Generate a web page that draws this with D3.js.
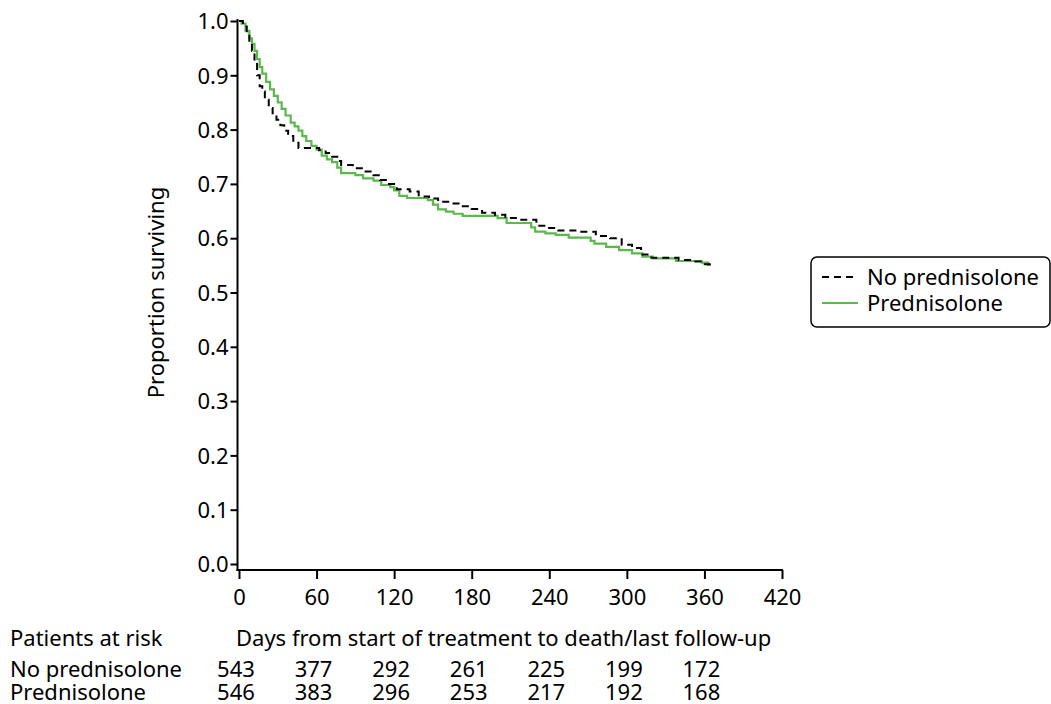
<!DOCTYPE html>
<html>
<head>
<meta charset="utf-8">
<script src="https://cdn.jsdelivr.net/npm/d3@7"></script>
<style>
  body { margin: 0; background: #fff; }
  text { font-family: "Noto Sans", sans-serif; fill: #000; }
</style>
</head>
<body>
<script>
// Kaplan-Meier estimates: [day, proportion surviving]
var noPred = [[0,1.0],[3,0.99],[6,0.975],[8,0.96],[10,0.945],[12,0.925],[14,0.9],[16,0.88],[18,0.87],
  [20,0.855],[23,0.84],[26,0.83],[29,0.818],[32,0.808],[35,0.798],[38,0.788],[42,0.776],[46,0.766],
  [62,0.762],[67,0.757],[72,0.75],[76,0.742],[79,0.735],[88,0.729],[96,0.723],[104,0.716],[109,0.707],
  [116,0.70],[122,0.69],[132,0.686],[139,0.677],[147,0.673],[154,0.667],[165,0.664],[172,0.659],
  [180,0.654],[188,0.647],[198,0.643],[206,0.637],[215,0.634],[230,0.623],[238,0.619],[247,0.614],
  [262,0.612],[276,0.604],[287,0.60],[296,0.588],[304,0.582],[311,0.57],[319,0.564],[340,0.56],
  [353,0.557],[357,0.552],[365,0.552]];

var pred = [[0,1.0],[2,0.995],[5,0.982],[8,0.968],[10,0.958],[12,0.945],[14,0.93],[16,0.915],[18,0.903],
  [21,0.888],[24,0.874],[27,0.862],[30,0.85],[33,0.838],[36,0.826],[40,0.813],[43,0.806],[46,0.798],
  [49,0.788],[52,0.779],[56,0.77],[60,0.763],[64,0.752],[68,0.745],[72,0.74],[76,0.73],[79,0.72],
  [90,0.716],[96,0.71],[104,0.706],[110,0.698],[117,0.694],[120,0.688],[124,0.678],[130,0.674],
  [146,0.67],[150,0.662],[154,0.653],[160,0.649],[166,0.645],[173,0.641],[200,0.637],[207,0.628],
  [226,0.62],[229,0.612],[237,0.609],[245,0.606],[255,0.601],[272,0.595],[275,0.59],[284,0.584],
  [294,0.578],[304,0.572],[312,0.566],[320,0.563],[338,0.558],[358,0.555],[363,0.551],[365,0.551]];

var xTicks = [0, 60, 120, 180, 240, 300, 360, 420];
var yTicks = [0, 0.1, 0.2, 0.3, 0.4, 0.5, 0.6, 0.7, 0.8, 0.9, 1.0];
var seriesNames = ["No prednisolone", "Prednisolone"];
var riskNoPred = [543, 377, 292, 261, 225, 199, 172];
var riskPred = [546, 383, 296, 253, 217, 192, 168];

var green = "#5cb84e";

var svg = d3.select("body").append("svg")
    .attr("width", 1051)
    .attr("height", 704);

var x = d3.scaleLinear().domain([0, 420]).range([239, 782]);
var y = d3.scaleLinear().domain([0, 1]).range([564, 21]);
var xAxisY = 570, yAxisX = 237.5;

// y axis
var gy = svg.append("g")
    .attr("transform", "translate(" + yAxisX + ",0)")
    .call(d3.axisLeft(y).tickValues(yTicks).tickFormat(d3.format(".1f")).tickSize(7).tickSizeOuter(0));
gy.select(".domain").remove();
gy.selectAll("line").attr("stroke-width", 2);
gy.selectAll("text").attr("font-size", "22px").attr("font-family", "Noto Sans").attr("x", -9).attr("dy", "0.35em");
svg.append("line")
    .attr("x1", yAxisX).attr("x2", yAxisX)
    .attr("y1", y(1) - 2).attr("y2", xAxisY + 1)
    .attr("stroke", "#000").attr("stroke-width", 2);

// x axis
var gx = svg.append("g")
    .attr("transform", "translate(0," + xAxisY + ")")
    .call(d3.axisBottom(x).tickValues(xTicks).tickSize(9).tickSizeOuter(0));
gx.select(".domain").remove();
gx.selectAll("line").attr("stroke-width", 2);
gx.selectAll("text").attr("font-size", "22px").attr("font-family", "Noto Sans").attr("y", 19).attr("dy", "0.71em");
svg.append("line")
    .attr("x1", yAxisX - 1).attr("x2", x(420) + 1)
    .attr("y1", xAxisY).attr("y2", xAxisY)
    .attr("stroke", "#000").attr("stroke-width", 2);

svg.append("text")
    .attr("transform", "translate(164," + y(0.5) + ") rotate(-90)")
    .attr("text-anchor", "middle")
    .attr("font-size", "22px")
    .text("Proportion surviving");

// curves
var line = d3.line()
    .x(function(d) { return x(d[0]); })
    .y(function(d) { return y(d[1]); })
    .curve(d3.curveStepAfter);

svg.append("path")
    .datum(pred)
    .attr("d", line)
    .attr("fill", "none")
    .attr("stroke", green)
    .attr("stroke-width", 2.2);

svg.append("path")
    .datum(noPred)
    .attr("d", line)
    .attr("fill", "none")
    .attr("stroke", "#000")
    .attr("stroke-width", 2)
    .attr("stroke-dasharray", "7,5");

// legend
var lg = svg.append("g");
lg.append("rect")
    .attr("x", 811).attr("y", 257).attr("width", 239).attr("height", 70)
    .attr("rx", 6).attr("fill", "#fff").attr("stroke", "#000").attr("stroke-width", 1.5);
lg.append("line").attr("x1", 822).attr("x2", 858).attr("y1", 277).attr("y2", 277)
    .attr("stroke", "#000").attr("stroke-width", 2).attr("stroke-dasharray", "7,5");
lg.append("line").attr("x1", 822).attr("x2", 858).attr("y1", 303).attr("y2", 303)
    .attr("stroke", green).attr("stroke-width", 2);
lg.selectAll("text.leg")
    .data(seriesNames)
  .enter().append("text")
    .attr("class", "leg")
    .attr("x", 867)
    .attr("y", function(d, i) { return 277 + i * 26; })
    .attr("dy", "0.35em")
    .attr("font-size", "22px")
    .text(function(d) { return d; });

// patients at risk table
svg.append("text").attr("x", 10).attr("y", 646).attr("font-size", "22px").text("Patients at risk");
svg.append("text").attr("x", 236).attr("y", 646).attr("font-size", "22px")
    .text("Days from start of treatment to death/last follow-up");

var rows = [riskNoPred, riskPred];
rows.forEach(function(r, i) {
  var yy = 677 + i * 23;
  svg.append("text").attr("x", 10).attr("y", yy).attr("font-size", "22px").text(seriesNames[i]);
  svg.selectAll("text.risk" + i)
      .data(r)
    .enter().append("text")
      .attr("class", "risk" + i)
      .attr("x", function(d, j) { return x(xTicks[j]) - 3; })
      .attr("y", yy)
      .attr("text-anchor", "middle")
      .attr("font-size", "22px")
      .text(function(d) { return d; });
});
</script>
</body>
</html>
